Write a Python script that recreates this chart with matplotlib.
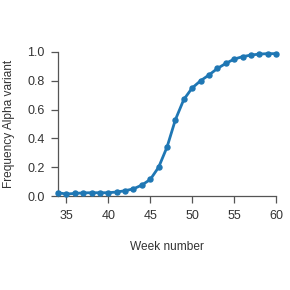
import matplotlib
matplotlib.use("Agg")
import matplotlib.pyplot as plt

weeks = list(range(34, 61))
freq = [0.023, 0.014, 0.018, 0.022, 0.023, 0.023, 0.023, 0.028, 0.037, 0.050, 0.076, 0.115,
        0.20, 0.34, 0.53, 0.67, 0.75, 0.80, 0.84, 0.885, 0.92, 0.95, 0.967, 0.978, 0.985, 0.988, 0.988]
xticks = [35, 40, 45, 50, 55, 60]
yticks = [0.0, 0.2, 0.4, 0.6, 0.8, 1.0]

plt.rcParams['font.family'] = ['Liberation Sans', 'DejaVu Sans']
fig = plt.figure(figsize=(2.9, 2.9), dpi=100)
ax = fig.add_axes([0.2, 0.324, 0.752, 0.497])
ax.plot(weeks, freq, color='#1f77b4', lw=2, marker='o', ms=3.6, clip_on=False, zorder=3)
ax.set_xlim(34, 60)
ax.set_ylim(0, 1.0)
ax.set_xticks(xticks)
ax.set_yticks(yticks)
ax.set_yticklabels([f"{v:.1f}" for v in yticks])
for s in ['top', 'right']:
    ax.spines[s].set_visible(False)
for s in ['left', 'bottom']:
    ax.spines[s].set_color('#555555')
    ax.spines[s].set_linewidth(0.9)
ax.tick_params(axis='both', length=5.2, width=0.9, color='#555555', labelsize=9, labelcolor='#333333', pad=4.5)
ax.set_xlabel('Week number', fontsize=8.6, color='#333333', labelpad=14)
ax.set_ylabel('Frequency Alpha variant', fontsize=8.6, color='#333333', labelpad=8.5)
fig.savefig('out.png', dpi=100)
